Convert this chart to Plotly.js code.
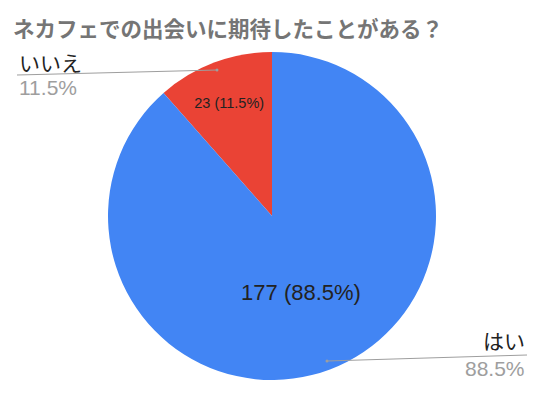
<!DOCTYPE html>
<html><head><meta charset="utf-8">
<script src="https://cdn.plot.ly/plotly-3.0.1.min.js"></script>
<style>body{margin:0;background:#fff}</style>
</head><body>
<div id="chart" style="width:540px;height:395px"></div>
<script>
const titleText = "ネカフェでの出会いに期待したことがある？";
const labels = ["いいえ", "はい"];
const values = [23, 177];
const colors = ["#ea4335", "#4285f4"];

const W = 540, H = 395;
const total = values.reduce((a, b) => a + b, 0);
const pct = values.map(v => (v / total * 100).toFixed(1) + "%");

const px = x => x / W, py = y => 1 - y / H;

const trace = {
  type: "pie",
  labels: labels,
  values: values,
  sort: false,
  direction: "clockwise",
  rotation: -values[0] / total * 360,
  marker: {colors: colors, line: {width: 0}},
  texttemplate: values.map((v, i) => v + " (" + pct[i] + ")"),
  textinfo: "text",
  textposition: "inside",
  insidetextorientation: "horizontal",
  insidetextfont: {family: "Liberation Sans, Arial, sans-serif", size: [14.5, 22], color: "#222222"},
  hoverinfo: "none",
  showlegend: false,
  domain: {x: [px(108), px(436)], y: [py(380), py(52)]}
};

const lab = [
  {name: {x: 17, y: 62, anchor: "left"}, pct: {x: 17, y: 88}, line: [17, 75, 217, 70]},
  {name: {x: 527, y: 340, anchor: "right"}, pct: {x: 527, y: 368}, line: [327, 361, 527, 355]}
];

const annotations = [{
  text: "<b>" + titleText + "</b>", xref: "paper", yref: "paper",
  x: px(11), y: py(27), xanchor: "left", yanchor: "middle", showarrow: false,
  font: {family: "Noto Sans CJK JP", size: 21.5, color: "#757575"}
}];
const shapes = [];
labels.forEach((l, i) => {
  const p = lab[i];
  annotations.push({
    text: l, xref: "paper", yref: "paper", x: px(p.name.x), y: py(p.name.y),
    xanchor: p.name.anchor, yanchor: "middle", showarrow: false,
    font: {family: "Noto Sans CJK JP", size: 21, color: "#222222"}
  });
  annotations.push({
    text: pct[i], xref: "paper", yref: "paper", x: px(p.pct.x), y: py(p.pct.y),
    xanchor: p.name.anchor, yanchor: "middle", showarrow: false,
    font: {family: "Liberation Sans, Arial, sans-serif", size: 21, color: "#9e9e9e"}
  });
  const [x0, y0, x1, y1] = p.line;
  shapes.push({type: "line", xref: "paper", yref: "paper", x0: px(x0), y0: py(y0), x1: px(x1), y1: py(y1),
    line: {color: "#9e9e9e", width: 1}});
  const dx = i === 0 ? x1 : x0, dy = i === 0 ? y1 : y0;
  shapes.push({type: "circle", xref: "paper", yref: "paper",
    x0: px(dx - 1.5), x1: px(dx + 1.5), y0: py(dy + 1.5), y1: py(dy - 1.5),
    fillcolor: "#9e9e9e", line: {width: 0}});
});

Plotly.newPlot("chart", [trace], {
  width: W, height: H,
  margin: {l: 0, r: 0, t: 0, b: 0},
  paper_bgcolor: "#ffffff",
  annotations: annotations,
  shapes: shapes
}, {staticPlot: true});
</script>
</body></html>
